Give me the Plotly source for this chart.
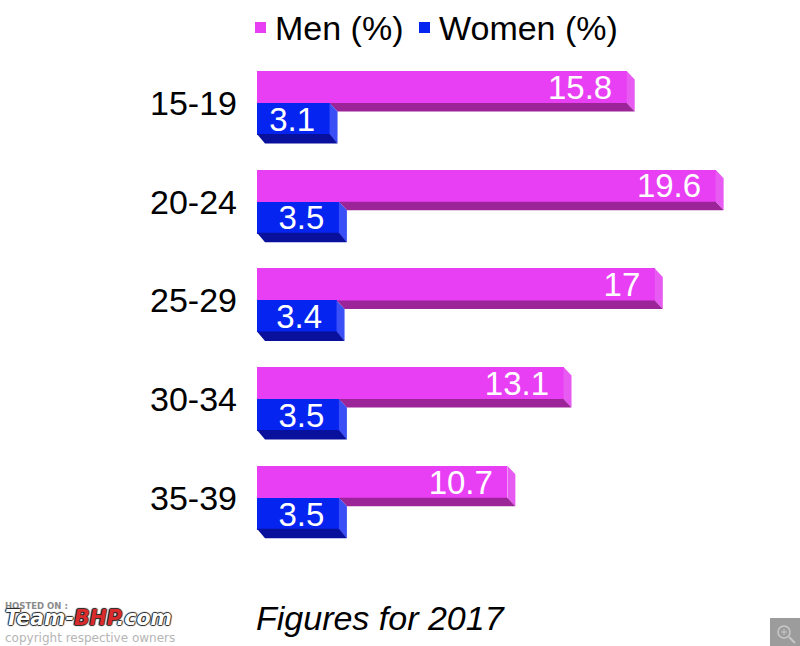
import plotly.graph_objects as go

categories = ["15-19", "20-24", "25-29", "30-34", "35-39"]
men = [15.8, 19.6, 17, 13.1, 10.7]
women = [3.1, 3.5, 3.4, 3.5, 3.5]

W, H = 800, 646
LEFT = 257
PX_PER_UNIT = 23.4
PX_PER_CAT = 98.7
FIRST_Y = 103
BAR_PX = 32
DX = 8 / PX_PER_UNIT
DY = 8.5 / PX_PER_CAT
BW = BAR_PX / PX_PER_CAT
SEAM = 2 / PX_PER_CAT
LABEL_SHIFT = 3.5 / PX_PER_CAT
FONT = "Liberation Sans"

PINK, PINK_SIDE, PINK_BOTTOM = "#E83FF5", "#E85BF2", "#9B2598"
BLUE, BLUE_SIDE, BLUE_BOTTOM = "#0524F0", "#3A4FF5", "#08109C"

idx = list(range(len(categories)))


def poly(points, color):
    xs, ys = [], []
    for group in points:
        xs += [p[0] for p in group] + [None]
        ys += [p[1] for p in group] + [None]
    return go.Scatter(x=xs, y=ys, mode="lines", fill="toself", fillcolor=color,
                      line=dict(width=0, color=color), hoverinfo="skip", showlegend=False)


fig = go.Figure()
fig.add_bar(name="Men (%)", y=idx, x=men, orientation="h", width=BW + SEAM, offset=-BW,
            marker=dict(color=PINK, line=dict(width=0)), hoverinfo="skip", showlegend=False)
fig.add_bar(name="Women (%)", y=idx, x=women, orientation="h", width=BW, offset=0,
            marker=dict(color=BLUE, line=dict(width=0)), hoverinfo="skip", showlegend=False)

fig.add_trace(poly([[(m, i - BW), (m + DX, i - BW + DY), (m + DX, i + DY), (m, i)]
                    for i, m in zip(idx, men)], PINK_SIDE))
fig.add_trace(poly([[(w, i), (w + DX, i + DY), (m + DX, i + DY), (m, i)]
                    for i, m, w in zip(idx, men, women)], PINK_BOTTOM))
fig.add_trace(poly([[(w, i), (w + DX, i + DY), (w + DX, i + BW + DY), (w, i + BW)]
                    for i, w in zip(idx, women)], BLUE_SIDE))
fig.add_trace(poly([[(0, i + BW - SEAM / 2), (DX, i + BW + DY), (w + DX, i + BW + DY), (w, i + BW - SEAM / 2)]
                    for i, w in zip(idx, women)], BLUE_BOTTOM))

PAD = 14.5 / PX_PER_UNIT
for vals, off in ((men, -BW / 2), (women, BW / 2)):
    fig.add_trace(go.Scatter(x=[v - PAD for v in vals], y=[i + off + LABEL_SHIFT for i in idx],
                             mode="text", text=[str(v) for v in vals],
                             textposition="middle left",
                             textfont=dict(family=FONT, size=33, color="white"),
                             hoverinfo="skip", showlegend=False))


def px(x):
    return (x - LEFT) / (W - LEFT)


def py(y):
    return 1 - y / H


def note(text, x, y, size, color="black", **font):
    fig.add_annotation(text=text, x=px(x), y=py(y), xref="paper", yref="paper", showarrow=False,
                       xanchor="left", yanchor="middle", align="left", borderpad=0,
                       font=dict(family=font.pop("family", FONT), size=size, color=color, **font))


def box(kind, x0, y0, x1, y1, **kw):
    fig.add_shape(type=kind, xref="paper", yref="paper", x0=px(x0), x1=px(x1), y0=py(y0), y1=py(y1), **kw)


# legend key
box("rect", 255, 22, 266, 33, fillcolor=PINK, line=dict(width=0))
box("rect", 419, 22, 430, 33, fillcolor=BLUE, line=dict(width=0))
note("Men (%)", 274, 27.5, 34)
note("Women (%)", 438, 27.5, 34)

note("<i>Figures for 2017</i>", 255, 618, 34)

# watermark: one block of three lines
note("<span style='font-size:8.5px;color:#8a8a8a;text-shadow:none'><b>HOSTED ON :</b></span><br>"
     "<span style='font-size:20.5px;text-shadow:1px 0 1px #222,-1px 0 1px #222,0 1px 1px #222,0 -1px 1px #222'>"
     "<b><i>Team-<span style='color:#D92B2B'>BHP</span>.com</i></b></span><br>"
     "<span style='font-size:12px;color:#b5b5b5;text-shadow:none'>copyright respective owners</span>",
     4, 623, 12.5, color="white", family="DejaVu Sans")

# zoom badge
box("rect", 770, 618, 800, 646, fillcolor="#9C9C9C", line=dict(width=0))
box("circle", 778, 626, 790, 638, line=dict(color="#C8C8C8", width=1.5))
box("line", 789, 637, 795, 643, line=dict(color="#C8C8C8", width=2))
box("line", 784, 629, 784, 635, line=dict(color="#C8C8C8", width=1))
box("line", 781, 632, 787, 632, line=dict(color="#C8C8C8", width=1))

fig.update_layout(
    width=W, height=H, autosize=False, margin=dict(l=LEFT, r=0, t=0, b=0, pad=0),
    paper_bgcolor="white", plot_bgcolor="white", barmode="overlay", bargap=0,
    font=dict(family=FONT, color="black"), hovermode=False, showlegend=False,
    xaxis=dict(range=[0, (W - LEFT) / PX_PER_UNIT], visible=False, fixedrange=True),
    yaxis=dict(range=[(H - FIRST_Y) / PX_PER_CAT, -FIRST_Y / PX_PER_CAT], tickmode="array",
               tickvals=idx, ticktext=categories, showgrid=False, zeroline=False, showline=False,
               ticks="", ticklabelstandoff=19, tickfont=dict(family=FONT, size=34, color="black"),
               fixedrange=True),
)
fig.write_html("out.html", config=dict(displayModeBar=False),
               post_script="document.body.style.margin='0';document.documentElement.style.overflow='hidden';")
